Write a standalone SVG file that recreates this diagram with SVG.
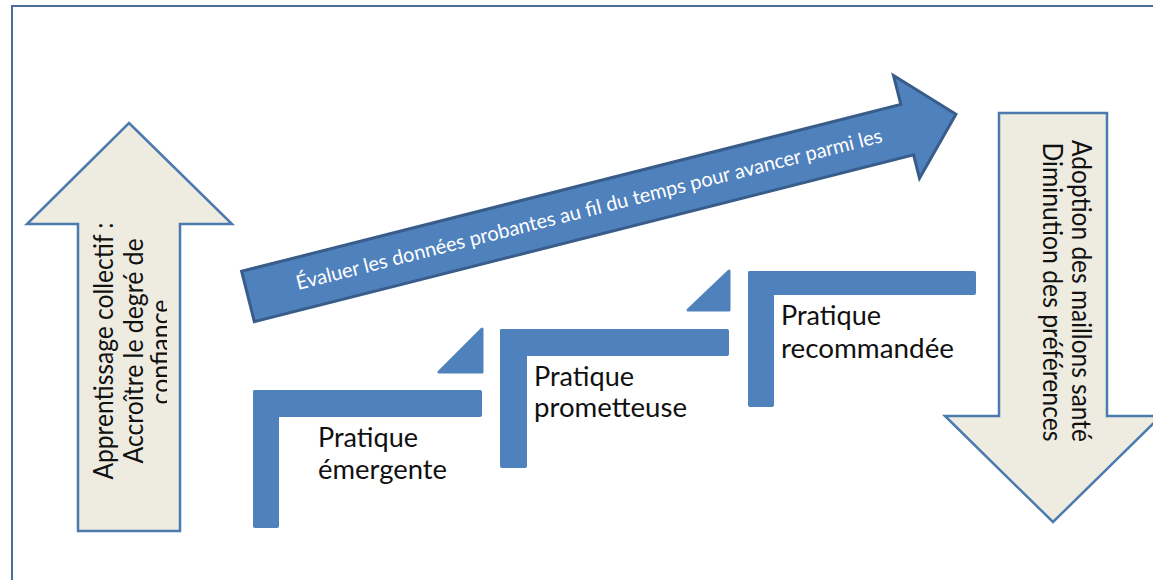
<svg xmlns="http://www.w3.org/2000/svg" width="1153" height="580" viewBox="0 0 1153 580">
  <defs>
    <style>
      .frame { fill: none; stroke: #4A6D9A; stroke-width: 2; }
      .beige { fill: #EEECE1; stroke: #4A7AAE; stroke-width: 2.5; stroke-linejoin: miter; }
      .blue { fill: #4F81BD; stroke: #385D8A; stroke-width: 3; stroke-linejoin: miter; }
      .step { fill: #4F81BD; }
      .tri { fill: #4F81BD; stroke: #4F81BD; stroke-width: 3; stroke-linejoin: round; }
      .lbl { font-family: Lato, "Open Sans", "Liberation Sans", sans-serif; font-size: 26px; fill: #111111; }
      .arrowtxt { font-family: Lato, "Open Sans", "Liberation Sans", sans-serif; font-size: 20px; fill: #FFFFFF; }
    </style>
    <clipPath id="clipConf">
      <rect x="78" y="224" width="89" height="307"/>
    </clipPath>
  </defs>

  <rect class="frame" x="12" y="6" width="1160" height="600"/>

  <g id="node-apprentissage">
    <polygon class="beige" points="129,123 232,224 180,224 180,531 78,531 78,224 27,224"/>
    <text class="lbl" text-anchor="middle" transform="translate(113,351) rotate(-90)" textLength="257" lengthAdjust="spacingAndGlyphs">Apprentissage collectif :</text>
    <text class="lbl" text-anchor="middle" transform="translate(143,351) rotate(-90)" textLength="225" lengthAdjust="spacingAndGlyphs">Accroître le degré de</text>
    <g clip-path="url(#clipConf)">
      <text class="lbl" text-anchor="middle" transform="translate(170,352) rotate(-90)" textLength="105" lengthAdjust="spacingAndGlyphs">confiance</text>
    </g>
  </g>

  <g id="node-adoption">
    <polygon class="beige" points="999,113 1107,113 1107,416 1161,416 1053,522 945,416 999,416"/>
    <text class="lbl" text-anchor="middle" transform="translate(1072,291) rotate(90)" textLength="302" lengthAdjust="spacingAndGlyphs">Adoption des maillons santé</text>
    <text class="lbl" text-anchor="middle" transform="translate(1043,292) rotate(90)" textLength="299" lengthAdjust="spacingAndGlyphs">Diminution des préférences</text>
  </g>

  <g id="connectors">
    <g id="arrow-evaluer" transform="translate(248,296.5) rotate(-14.2)">
      <polygon class="blue" points="0,-26 680,-26 680,-56 731,-3 680,50 680,26 0,26"/>
      <text class="arrowtxt" x="50" y="6" textLength="604" lengthAdjust="spacingAndGlyphs">Évaluer les données probantes au fil du temps pour avancer parmi les</text>
    </g>
    <polygon class="tri" points="482,329 482,372 439,372"/>
    <polygon class="tri" points="729,271 729,310 688,310"/>
  </g>

  <g id="node-emergente">
    <rect class="step" x="253" y="390" width="26" height="138" rx="2"/>
    <rect class="step" x="253" y="390" width="229" height="27" rx="2"/>
    <text class="lbl" x="318" y="447" textLength="100" lengthAdjust="spacingAndGlyphs">Pratique</text>
    <text class="lbl" x="318" y="479" textLength="129" lengthAdjust="spacingAndGlyphs">émergente</text>
  </g>

  <g id="node-prometteuse">
    <rect class="step" x="500" y="329" width="27" height="139" rx="2"/>
    <rect class="step" x="500" y="329" width="229" height="27" rx="2"/>
    <text class="lbl" x="534" y="386" textLength="100" lengthAdjust="spacingAndGlyphs">Pratique</text>
    <text class="lbl" x="534" y="417" textLength="153" lengthAdjust="spacingAndGlyphs">prometteuse</text>
  </g>

  <g id="node-recommandee">
    <rect class="step" x="748" y="271" width="26" height="136" rx="2"/>
    <rect class="step" x="748" y="271" width="228" height="24" rx="2"/>
    <text class="lbl" x="781" y="325" textLength="100" lengthAdjust="spacingAndGlyphs">Pratique</text>
    <text class="lbl" x="781" y="358" textLength="173" lengthAdjust="spacingAndGlyphs">recommandée</text>
  </g>
</svg>
